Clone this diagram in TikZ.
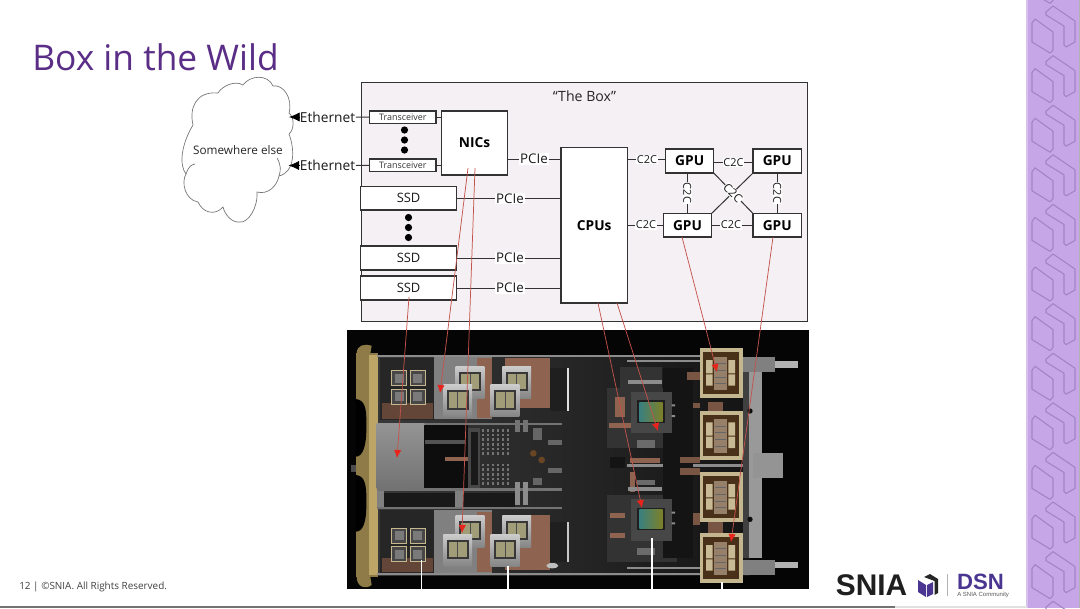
\documentclass[tikz,border=0pt]{standalone}
\usepackage{fontspec}
\setmainfont{Open Sans}
\newfontfamily\logofont{Liberation Sans}
\usetikzlibrary{arrows.meta,calc}
\definecolor{snpurple}{HTML}{5A2D86}
\definecolor{sidebar}{HTML}{C6A6E6}
\definecolor{sideline}{HTML}{A283C6}
\definecolor{boxbg}{HTML}{F5F0F4}
\definecolor{linec}{HTML}{333333}
\definecolor{redline}{HTML}{C4524A}
\definecolor{redhead}{HTML}{E8241C}
\definecolor{tanc}{HTML}{C4B68E}
\definecolor{goldd}{HTML}{8F7B48}
\definecolor{goldl}{HTML}{BCA566}
\definecolor{copper}{HTML}{8E6450}
\definecolor{dsn}{HTML}{4A3590}
\tikzset{
  wire/.style={draw=linec,line width=.75pt},
  pbox/.style={draw=linec,fill=white,line width=.8pt,inner sep=0pt,outer sep=0pt,font=\fontsize{9.7pt}{11pt}\selectfont,text=black!90},
  hbox/.style={pbox,font=\fontsize{10.3pt}{12pt}\selectfont\bfseries,text=black},
  tbox/.style={pbox,font=\fontsize{6.7pt}{8pt}\selectfont,text=black!80},
  pcie/.style={fill=white,inner sep=.6pt,outer sep=0pt,font=\fontsize{10pt}{12pt}\selectfont,text=black!90},
  ctc/.style={fill=white,inner sep=.4pt,outer sep=0pt,font=\fontsize{8.2pt}{10pt}\selectfont,text=black!90},
  ether/.style={inner sep=.5pt,outer sep=0pt,font=\fontsize{10.3pt}{12pt}\selectfont,text=black!90},
  dotc/.style={circle,fill=black,inner sep=0pt,minimum size=5.4pt},
  ptr/.style={draw=redline,line width=.55pt,-{Latex[length=6pt,width=5.5pt,color=redhead]}},
  wmark/.style={draw=white,line width=1.1pt},
}
\newcommand\hsink[2]{%
  \begin{scope}[shift={(#1,#2)}]
    \path[top color=black!20,bottom color=black!48] (0,0) rectangle (86,97);
    \fill[black!78] (10,18) rectangle (77,76);
    \fill[olive!45!black!55] (17,24) rectangle (70,70);
    \fill[black!70] (42,24) rectangle (45,70);
  \end{scope}}
\newcommand\gpupkg[2]{%
  \begin{scope}[shift={(#1,#2)}]
    \fill[tanc] (0,0) rectangle (128,148);
    \fill[black!62!brown] (10,12) rectangle (118,136);
    \fill[tanc!95!white] (18,35) rectangle (38,75) (18,78) rectangle (38,112) (85,35) rectangle (105,75) (85,78) rectangle (105,112);
    \fill[brown!35!gray] (42,26) rectangle (82,126);
    \foreach \r in {46,66,86,106} \draw[black!60,line width=.4pt] (46,\r) -- (78,\r);
  \end{scope}}
\newcommand\cpupkg[2]{%
  \begin{scope}[shift={(#1,#2)}]
    \fill[black!72] (0,0) rectangle (123,125);
    \fill[black!88] (20,26) rectangle (102,94);
    \shade[left color=teal!55!gray,right color=olive!35!gray] (26,32) rectangle (96,88);
    \fill[black!45] (123,38) rectangle (133,44) (123,70) rectangle (133,76);
  \end{scope}}
\newcommand\smallchip[2]{\draw[draw=tanc,line width=.5pt,fill=black!72] (#1,#2) rectangle ++(45,45); \fill[black!52] ($(#1,#2)+(9,9)$) rectangle ++(27,27);}
\begin{document}
\begin{tikzpicture}[x=.75pt,y=-.75pt]
\useasboundingbox (0,0) rectangle (1080,608);
\fill[white] (0,0) rectangle (1080,608);
% side band
\fill[sidebar] (1027,0) rectangle (1080,608);
\fill[black!30] (1078.5,0) rectangle (1080,608);
\fill[sidebar!70!white] (1026,0) rectangle (1028,608);
\begin{scope}
  \clip (1027,0) rectangle (1078,608);
  \foreach \i in {-1,...,12}{
    \begin{scope}[yshift={-\i*37.2pt}]
      \draw[sideline,line width=.8pt,line join=round] (1046,12) -- (1053,6) -- (1075,21) -- (1075,42) -- (1066,47) -- (1064,45) -- (1064,26) -- (1046,15) -- cycle;
      \draw[sideline,line width=.8pt,line join=round] (1032,23) -- (1035,19) -- (1053,32) -- (1053,50) -- (1050,53) -- (1032,42) -- cycle;
    \end{scope}}
\end{scope}
% title and footer
\node[anchor=west,inner sep=0pt,text=snpurple,font=\fontsize{26.5pt}{30pt}\selectfont] (title) at (32,57) {Box in the Wild};
\node[anchor=west,inner sep=0pt,text=black!75,font=\fontsize{7.45pt}{9pt}\selectfont] (foot) at (19,586.5) {12 | ©SNIA. All Rights Reserved.};
\fill[black!55] (0,606.3) rectangle (895,608);
\fill[black!12] (895,606.3) rectangle (1027,608);
% cloud
\draw[black!55,line width=.5pt,fill=white] (193,125)
  .. controls (189,108) and (196,91) .. (218,93)
  .. controls (222,86) and (235,80) .. (243,85)
  .. controls (250,75) and (268,74) .. (273,86)
  .. controls (283,84) and (293,98) .. (289,113)
  .. controls (295,118) and (294,130) .. (289,134)
  .. controls (295,150) and (295,172) .. (279,176)
  .. controls (277,186) and (268,195) .. (257,192)
  .. controls (258,208) and (248,223) .. (240,222)
  .. controls (232,223) and (225,215) .. (223,207)
  .. controls (215,216) and (203,213) .. (198,202)
  .. controls (185,200) and (181,182) .. (186,174)
  .. controls (179,165) and (181,145) .. (193,125) -- cycle;
\draw[black!55,line width=.5pt] (186,174) .. controls (189,166) and (191,165) .. (195,164);
\draw[black!55,line width=.5pt] (279,176) .. controls (281,170) and (281,165) .. (277,158);
\node[inner sep=0pt,font=\fontsize{8.8pt}{10pt}\selectfont,text=black!85] (cloud) at (238,150) {Somewhere else};
% box
\node[draw=linec,fill=boxbg,line width=.8pt,minimum width=446.5pt*.75,minimum height=239.5pt*.75,anchor=north west,inner sep=0pt] (box) at (360.7,81.7) {};
\node[inner sep=0pt,font=\fontsize{10.6pt}{12pt}\selectfont,text=black!85] (boxlabel) at (584.5,96) {“The Box”};
% blocks
\newcommand\blk[7]{\node[#1,minimum width=#5*.75pt-#4*.75pt,minimum height=#7*.75pt-#6*.75pt] (#2) at ({(#4+#5)/2},{(#6+#7)/2}) {#3};}
\blk{tbox}{tra}{Transceiver}{369.5}{436}{111}{123.5}
\blk{tbox}{trb}{Transceiver}{369.5}{436}{159}{171.5}
\blk{hbox}{nic}{NICs}{441.5}{507.5}{111}{175}
\blk{pbox}{ssda}{SSD}{360.7}{456.5}{186.5}{210}
\blk{pbox}{ssdb}{SSD}{360.7}{456.5}{246}{270}
\blk{pbox}{ssdc}{SSD}{360.7}{456.5}{276}{300}
\blk{hbox}{cpu}{CPUs}{561}{627.5}{147.5}{303}
\blk{hbox}{gpua}{GPU}{665.7}{713.7}{149}{173}
\blk{hbox}{gpub}{GPU}{753}{801.5}{149}{173}
\blk{hbox}{gpuc}{GPU}{663.5}{711.5}{213.5}{237}
\blk{hbox}{gpud}{GPU}{753}{801.5}{213.5}{237}
% dots
\foreach \n/\x/\y in {da/404.5/130,db/404.5/140,dc/404.5/150,dd/408.5/217.5,de/408.5/227.5,df/408.5/237.5}
  \node[dotc] (\n) at (\x,\y) {};
% ethernet
\node[ether] (etha) at (327.5,117) {Ethernet};
\node[ether] (ethb) at (327.5,165.5) {Ethernet};
\coordinate (cla) at (289,117);
\coordinate (clb) at (288.5,165.5);
\draw[draw=black,line width=.6pt,-{Latex[length=8pt,width=7pt]}] (etha.west) -- (cla);
\draw[draw=black,line width=.6pt,-{Latex[length=8pt,width=7pt]}] (ethb.west) -- (clb);
\draw[wire] (etha.east) -- (tra.west);
\draw[wire] (ethb.east) -- (trb.west);
\draw[wire] (tra.east) -- (tra.east -| nic.west);
\draw[wire] (trb.east) -- (trb.east -| nic.west);
% PCIe
\node[pcie] (pa) at (534,159) {PCIe};
\draw[wire] (pa -| nic.east) -- (pa.west);
\draw[wire] (pa.east) -- (pa -| cpu.west);
\foreach \s/\p in {ssda/pb,ssdb/pc,ssdc/pd}{
  \node[pcie] (\p) at ($(\s.east)+(53.5,0)$) {PCIe};
  \draw[wire] (\s.east) -- (\p.west);
  \draw[wire] (\p.east) -- (\p -| cpu.west);
}
% C2C
\node[ctc] (ca) at (647,159.5) {C2C};
\draw[wire] (ca -| cpu.east) -- (ca.west);
\draw[wire] (ca.east) -- (ca -| gpua.west);
\node[ctc] (cb) at (646,225) {C2C};
\draw[wire] (cb -| cpu.east) -- (cb.west);
\draw[wire] (cb.east) -- (cb -| gpuc.west);
\node[ctc] (cc) at (733.5,162.5) {C2C};
\draw[wire] (cc -| gpua.east) -- (cc.west);
\draw[wire] (cc.east) -- (cc -| gpub.west);
\node[ctc] (cd) at (731,225) {C2C};
\draw[wire] (cd -| gpuc.east) -- (cd.west);
\draw[wire] (cd.east) -- (cd -| gpud.west);
\draw[wire] (gpua.south east) -- (gpud.north west);
\draw[wire] (gpub.south west) -- (gpuc.north east);
\node[ctc,rotate=-45,font=\fontsize{8.8pt}{10pt}\selectfont] (ce) at (733,193) {C2C};
\draw[wire] (687.3,173) -- (687.3,213.5);
\node[ctc,rotate=-90] (cf) at (687.3,193) {C2C};
\draw[wire] (777.3,173) -- (777.3,213.5);
\node[ctc,rotate=-90] (cg) at (777.3,193) {C2C};
% ---- photo ----
\fill[black!98] (347,330) rectangle (809,589);
\shade[left color=black!78,right color=black!92] (378,357) rectangle (750,575);
\begin{scope}[shift={(345,325)},x=.25pt,y=-.25pt]
  % handle
  \fill[goldd] (32,85) rectangle (100,755);
  \fill[goldd] (35,85) .. controls (35,60) and (60,55) .. (80,62) -- (75,92) -- cycle;
  \fill[goldd] (35,755) .. controls (35,785) and (60,795) .. (80,780) -- (75,750) -- cycle;
  \fill[goldl] (72,90) rectangle (100,750);
  \fill[black] (32,222) .. controls (60,225) and (65,250) .. (64,300) .. controls (65,360) and (55,395) .. (32,395) -- cycle;
  \fill[black] (32,450) .. controls (60,452) and (65,480) .. (64,530) .. controls (65,590) and (55,620) .. (32,620) -- cycle;
  \fill[black!70] (18,420) rectangle (32,440);
  % rails
  \fill[black!45] (95,91) rectangle (1100,96);
  \fill[black!45] (95,745) rectangle (1100,750);
  % left boards
  \fill[black!85] (105,100) rectangle (270,285);
  \fill[copper!70!black] (110,235) rectangle (265,282);
  \fill[black!85] (105,555) rectangle (270,745);
  \fill[copper!70!black] (110,700) rectangle (265,742);
  % plates
  \fill[black!50] (268,97) rectangle (440,282);
  \fill[black!50] (268,555) rectangle (440,745);
  \fill[copper] (395,100) rectangle (440,280);
  \fill[copper] (395,560) rectangle (440,742);
  \fill[copper] (480,100) rectangle (615,250);
  \fill[copper] (480,570) rectangle (615,735);
  \fill[black!88] (615,130) rectangle (665,258);
  \fill[black!88] (615,590) rectangle (665,712);
  \fill[black!12] (665,130) rectangle (672,258);
  \fill[black!22] (665,590) rectangle (672,712);
  % chips
  \foreach \a/\b in {140/137,195/137,140/192,195/192,140/610,195/610,140/665,195/665}{\smallchip{\a}{\b}}
  % heat sinks
  \foreach \a/\b in {332/123,472/123,295/178,437/178,332/570,472/570,295/627,437/627}{\hsink{\a}{\b}}
  % middle
  \fill[black!55] (95,293) rectangle (650,300);
  \fill[black!55] (95,490) rectangle (650,497);
  \fill[black!55] (95,546) rectangle (650,553);
  \shade[top color=black!42,bottom color=black!55] (95,295) rectangle (238,490);
  \fill[black!95] (238,300) rectangle (370,490);
  \fill[black!68] (240,345) rectangle (360,358);
  \fill[copper] (300,395) rectangle (368,408);
  \fill[black!72] (370,310) rectangle (405,490);
  \fill[black!90] (378,320) rectangle (398,480);
  \fill[black!90] (118,505) rectangle (330,545);
  \fill[black!90] (355,505) rectangle (510,545);
  \fill[black!50] (95,497) rectangle (118,546);
  \fill[black!50] (330,497) rectangle (355,546);
  \foreach \a in {410,425,440,455,470,485}{
    \foreach \b in {312,326,340,354,368,382,416,430,444,458,472}{
      \fill[black!55] (\a,\b) rectangle ++(8,8);
  }}
  \fill[black!45] (510,470) rectangle (525,540);
  \fill[black!45] (533,470) rectangle (548,540);
  \fill[black!55] (510,285) rectangle (525,320);
  \fill[black!55] (533,285) rectangle (548,320);
  \fill[black!60] (565,310) rectangle (590,345);
  \fill[black!60] (610,345) rectangle (650,360);
  \fill[black!60] (610,430) rectangle (650,445);
  \fill[black!60] (565,460) rectangle (590,480);
  \fill[brown!55!black] (565,385) circle[radius=10];
  \fill[brown!55!black] (590,405) circle[radius=10];
  \fill[white!75!black] (622,722) ellipse (18 and 8);
\end{scope}
\begin{scope}[shift={(580,325)},x=.25pt,y=-.25pt]
  \fill[black!45] (140,105) rectangle (360,112);
  \fill[black!45] (140,725) rectangle (360,732);
  \fill[black!80] (120,125) rectangle (245,190);
  \fill[black!80] (80,190) rectangle (290,370);
  \fill[black!80] (80,510) rectangle (290,710);
  \fill[copper] (105,215) rectangle (135,275);
  \fill[copper] (88,295) rectangle (155,310);
  \fill[copper] (150,400) rectangle (240,415);
  \fill[copper] (150,440) rectangle (165,500);
  \fill[copper] (90,565) rectangle (135,580);
  \fill[copper] (90,625) rectangle (135,640);
  \fill[black!45] (140,418) rectangle (510,425);
  \fill[black!92] (90,395) rectangle (135,430);
  \fill[black!92] (250,130) rectangle (340,700);
  \fill[black!45] (145,165) rectangle (245,178);
  \fill[black!45] (145,485) rectangle (245,498);
  \fill[black!58] (170,345) rectangle (225,370);
  \fill[black!58] (170,465) rectangle (225,480);
  \fill[black!58] (170,670) rectangle (225,690);
  \fill[copper!85!black] (320,140) rectangle (360,165);
  \fill[copper!85!black] (340,235) rectangle (360,250);
  \fill[copper!85!black] (300,395) rectangle (360,415);
  \fill[copper!85!black] (300,430) rectangle (360,450);
  \fill[copper!85!black] (340,565) rectangle (360,600);
  \fill[copper!85!black] (385,232) rectangle (430,257);
  \fill[copper!85!black] (385,590) rectangle (430,625);
  \cpupkg{152}{200}
  \cpupkg{152}{522}
  % right rail
  \fill[black!75] (488,140) rectangle (510,700);
  \fill[black!40] (508,140) rectangle (546,700);
  \fill[black!50] (488,95) rectangle (585,140);
  \fill[black!50] (488,705) rectangle (585,750);
  \fill[black!30] (585,108) rectangle (655,128);
  \fill[black!30] (585,710) rectangle (655,730);
  \fill[black!42] (520,385) rectangle (610,460);
  \fill[black!95] (510,258) circle[radius=8];
  \fill[black!95] (510,583) circle[radius=8];
  \gpupkg{360}{70}
  \gpupkg{360}{257}
  \gpupkg{360}{442}
  \gpupkg{360}{625}
\end{scope}
% white marks
\coordinate (wa) at (421.5,560); \coordinate (wb) at (508,566); \coordinate (wc) at (652,538); \coordinate (wd) at (722,582);
\foreach \c in {wa,wb,wc,wd} \draw[wmark] (\c) -- (\c |- 0,589);
% red pointers
\coordinate (ssdT) at (409,297);  \coordinate (ssdH) at (397,458);
\coordinate (nicAT) at (468,168); \coordinate (nicAH) at (440,393);
\coordinate (nicBT) at (475,168); \coordinate (nicBH) at (462,533);
\coordinate (cpuAT) at (598,303); \coordinate (cpuAH) at (642,508);
\coordinate (cpuBT) at (617,303); \coordinate (cpuBH) at (658,431);
\coordinate (gpuAT) at (682,237); \coordinate (gpuAH) at (717,372);
\coordinate (gpuBT) at (773,237); \coordinate (gpuBH) at (731,542);
\foreach \t/\h in {ssdT/ssdH,nicAT/nicAH,nicBT/nicBH,cpuAT/cpuAH,cpuBT/cpuBH,gpuAT/gpuAH,gpuBT/gpuBH}
  \draw[ptr] (\t) -- (\h);
% logo
\node[inner sep=0pt,font=\logofont\bfseries\fontsize{22.4pt}{24pt}\selectfont,text=black!88] (snia) at (871.5,585) {SNIA};
\fill[dsn] (918,580) -- (926,585) -- (926,597) -- (918,592) -- cycle;
\fill[dsn] (927,585) -- (933,582) -- (933,594) -- (927,597) -- cycle;
\fill[black!85] (924,577) -- (930,574) -- (938,579) -- (938,593) -- (934.5,595) -- (934.5,581) -- cycle;
\draw[black!30,line width=.5pt] (947.7,574) -- (947.7,596);
\node[inner sep=0pt,font=\logofont\bfseries\fontsize{16.6pt}{18pt}\selectfont,text=dsn] (dsnt) at (980.5,582) {DSN};
\node[anchor=west,inner sep=0pt,font=\logofont\fontsize{4.5pt}{5pt}\selectfont,text=black!65] (dsnc) at (957,595.2) {A SNIA Community};
\end{tikzpicture}
\end{document}
